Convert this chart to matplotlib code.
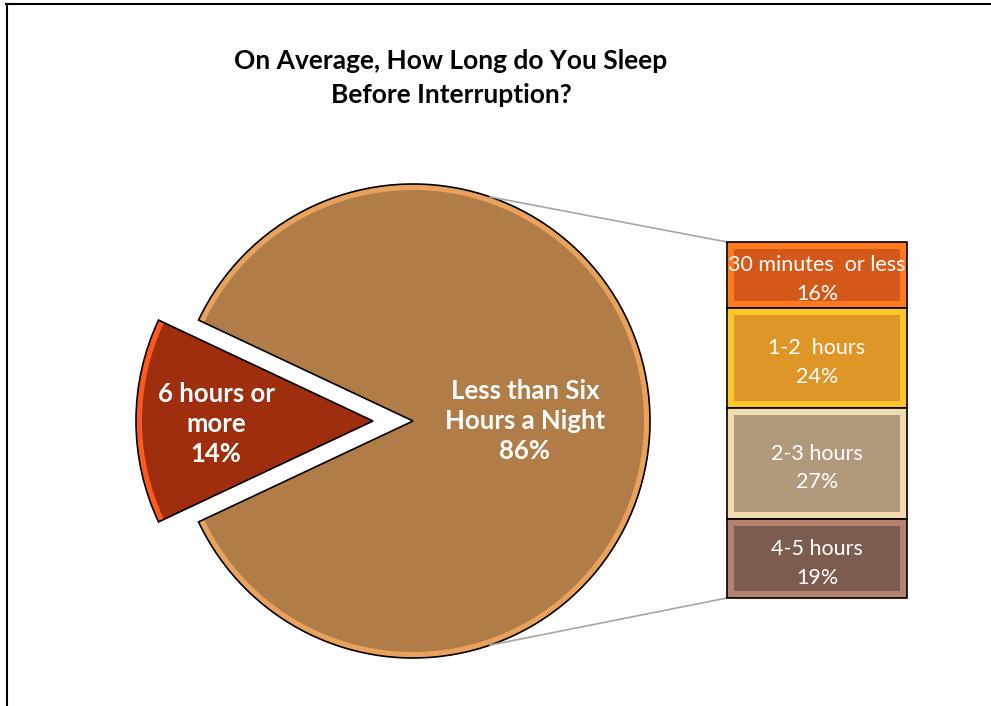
import matplotlib.pyplot as plt
import numpy as np
from matplotlib.lines import Line2D

plt.rcParams['font.family'] = ['Lato', 'DejaVu Sans']

# main pie: share of respondents
pie_labels = ["Less than Six\nHours a Night\n86%", "6 hours or\nmore\n14%"]
pie_values = [86, 14]
pie_colors = ["#B07D48", "#9F2E0F"]
pie_bevels = ["#E9A25C", "#FF5A1E"]

# breakdown of the 86% slice (top to bottom in the bar)
bar_labels = ["30 minutes  or less\n16%", "1-2  hours\n24%", "2-3 hours\n27%", "4-5 hours\n19%"]
bar_values = [16, 24, 27, 19]
bar_colors = ["#D4581A", "#DE9726", "#B09A7B", "#7D5C50"]
bar_bevels = ["#FF7A1E", "#FFC52C", "#F0DCB0", "#B58270"]

title = "On Average, How Long do You Sleep\nBefore Interruption?"

W, H = 991, 706
fig = plt.figure(figsize=(W / 100, H / 100), dpi=100)
ax = fig.add_axes([0, 0, 1, 1])

cx, cy, r = 413, 285, 237
gap = 40
start = 180 + 360 * pie_values[1] / sum(pie_values) / 2

# bevel layer, inner fill, then outline
ax.pie(pie_values, colors=pie_bevels, startangle=start, center=(cx, cy),
       radius=r, explode=[0, gap], wedgeprops=dict(linewidth=0), frame=True)
ax.pie(pie_values, colors=pie_colors, startangle=start, center=(cx, cy),
       radius=r - 6, explode=[0, gap], wedgeprops=dict(linewidth=0), frame=True)
ax.pie(pie_values, startangle=start, center=(cx, cy), radius=r,
       explode=[0, gap], wedgeprops=dict(fill=False, edgecolor="black", linewidth=1.2),
       frame=True)
ax.set_xlim(0, W)
ax.set_ylim(0, H)
ax.axis("off")

ax.text(525, 285, pie_labels[0], color="white", fontsize=18.5, fontweight="bold",
        ha="center", va="center", linespacing=1.3)
ax.text(216, 282, pie_labels[1], color="white", fontsize=18.5, fontweight="bold",
        ha="center", va="center", linespacing=1.3)

# bar of the big slice
bx0, bw, by0, bh = 727, 180, 108, 356
bax = fig.add_axes([bx0 / W, by0 / H, bw / W, bh / H])
bax.set_xlim(0, 1)
bax.set_ylim(0, sum(bar_values))
bax.axis("off")

total = sum(bar_values)
tops = total - np.cumsum([0] + bar_values[:-1])
bottoms = tops - np.array(bar_values)
ix = 7 / bw
iy = 7 * total / bh
bax.bar(0.5, bar_values, width=1, bottom=bottoms, color=bar_bevels,
        edgecolor="black", linewidth=1.2, clip_on=False)
bax.bar(0.5, np.array(bar_values) - 2 * iy, width=1 - 2 * ix, bottom=bottoms + iy,
        color=bar_colors, linewidth=0)
for lab, b, v in zip(bar_labels, bottoms, bar_values):
    bax.text(0.5, b + v / 2 - 1.1, lab, color="white", fontsize=15.5,
             ha="center", va="center", linespacing=1.55, clip_on=True)

# connector lines from the pie to the bar
ang = np.deg2rad(71)
ax.plot([cx + r * np.cos(ang), bx0], [cy + r * np.sin(ang), by0 + bh],
        color="#A6A6A6", linewidth=1.2)
ax.plot([cx + r * np.cos(ang), bx0], [cy - r * np.sin(ang), by0],
        color="#A6A6A6", linewidth=1.2)

fig.text(451 / W, 1 - 78 / H, title, fontsize=19, fontweight="bold",
         ha="center", va="center", linespacing=1.5)

# chart frame (top and left edges)
fig.add_artist(Line2D([6 / W, 1], [1 - 4 / H, 1 - 4 / H], color="black", linewidth=1.5))
fig.add_artist(Line2D([7 / W, 7 / W], [0, 1 - 4 / H], color="black", linewidth=1.5))

fig.savefig("out.png", dpi=100)
